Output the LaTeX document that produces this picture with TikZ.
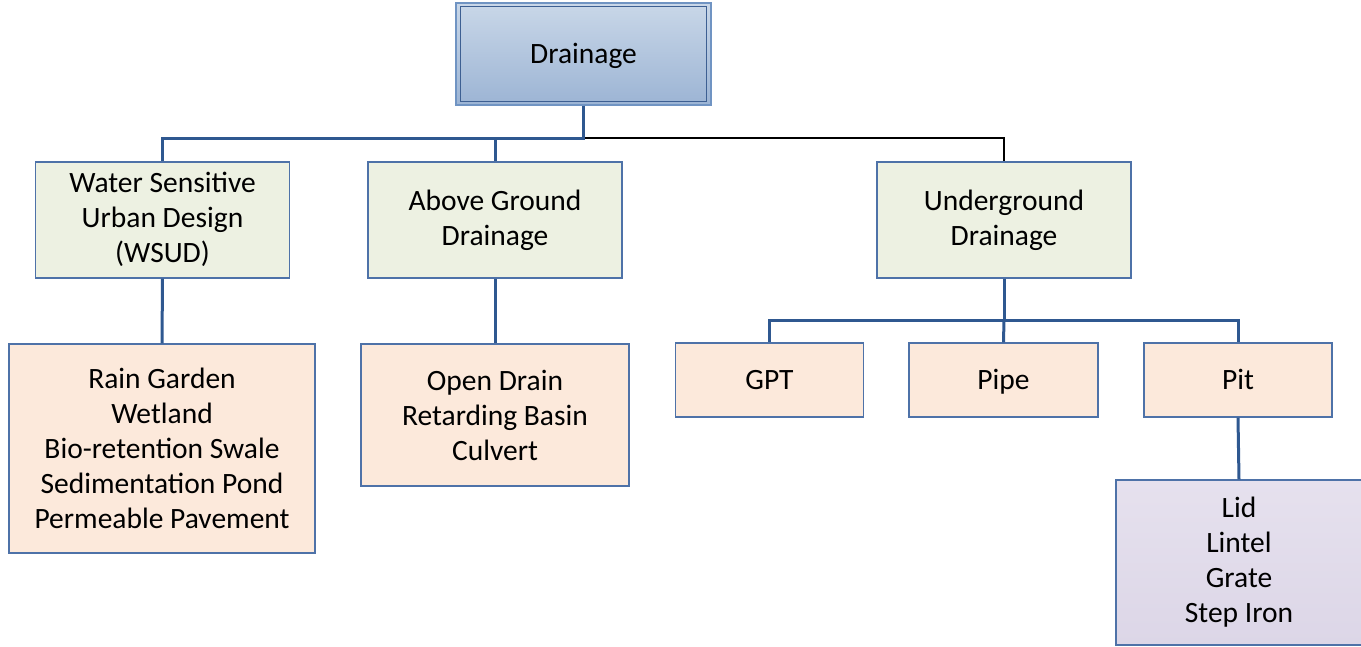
\documentclass[tikz,border=0pt]{standalone}
\usepackage{fontspec}
\setmainfont{Carlito}
\definecolor{linkblue}{HTML}{2F5890}
\definecolor{boxedge}{HTML}{4E72A8}
\definecolor{greenfill}{HTML}{EDF1E2}
\definecolor{peachfill}{HTML}{FCE9DB}
\definecolor{lilactop}{HTML}{E6E1EE}
\definecolor{lilacbot}{HTML}{DCD6E7}
\definecolor{rootouter}{HTML}{7094C3}
\definecolor{rootinner}{HTML}{3D5F92}
\definecolor{roottop}{HTML}{C9D7E8}
\definecolor{rootbot}{HTML}{9CB4D4}
\tikzset{
  box/.style={draw=boxedge, line width=1.2pt, align=center, inner sep=0pt,
    font=\fontsize{29.5}{35}\selectfont},
  oneline/.style={text height=19pt, text depth=0pt},
  catbox/.style={box, fill=greenfill, minimum width=254pt, minimum height=116pt},
  leafbox/.style={box, fill=peachfill},
  partbox/.style={box, top color=lilactop, bottom color=lilacbot},
  conn/.style={draw=linkblue, line width=3pt},
  thinconn/.style={draw=black, line width=1.6pt},
}
\begin{document}
\begin{tikzpicture}[x=1pt, y=-1pt]
\useasboundingbox (0,0) rectangle (1361,646);

% root node with its double frame
\node[box, oneline, draw=rootouter, top color=roottop, bottom color=rootbot,
      minimum width=255pt, minimum height=102pt] (root) at (583.5,54) {Drainage};
\draw[rootinner, line width=1.2pt] ([shift={(5,4)}]root.north west) rectangle ([shift={(-5,-4)}]root.south east);

% first level
\node[catbox] (wsud) at (162.5,220) {Water Sensitive\\Urban Design\\(WSUD)\vphantom{g}};
\node[catbox] (above) at (495,220) {Above Ground\\Drainage};
\node[catbox] (under) at (1004,220) {Underground\\Drainage};

% second level
\node[leafbox, minimum width=306pt, minimum height=209pt] (wsudlist) at (162,448.5)
  {Rain Garden\\Wetland\\Bio-retention Swale\\Sedimentation Pond\\Permeable Pavement};
\node[leafbox, minimum width=268pt, minimum height=142pt] (abovelist) at (495,415)
  {Open Drain\\Retarding Basin\\Culvert};
\node[leafbox, oneline, minimum width=188pt, minimum height=74pt] (gpt) at (769.5,380) {GPT};
\node[leafbox, oneline, minimum width=189pt, minimum height=74pt] (pipe) at (1003.5,380) {Pipe};
\node[leafbox, oneline, minimum width=188pt, minimum height=74pt] (pit) at (1238,380) {Pit};

% third level
\node[partbox, minimum width=246pt, minimum height=165pt] (pitparts) at (1239,562.5)
  {Lid\\Lintel\\Grate\\Step Iron};

% connectors
\coordinate (hub) at (583.5,138);
\coordinate (subhub) at (1004,320);
\draw[thinconn] (hub) -| (under.north);
\draw[conn] (root.south) -- (hub) -| (wsud.north);
\draw[conn] (hub) -| (above.north);
\draw[conn] (wsud.south) -- (wsudlist.north);
\draw[conn] (above.south) -- (abovelist.north);
\draw[conn] (under.south) -- (subhub) -| (gpt.north);
\draw[conn] (subhub) -| (pit.north);
\draw[conn] (subhub) -- (pipe.north);
\draw[conn] (pit.south) -- (pitparts.north);
\end{tikzpicture}
\end{document}
